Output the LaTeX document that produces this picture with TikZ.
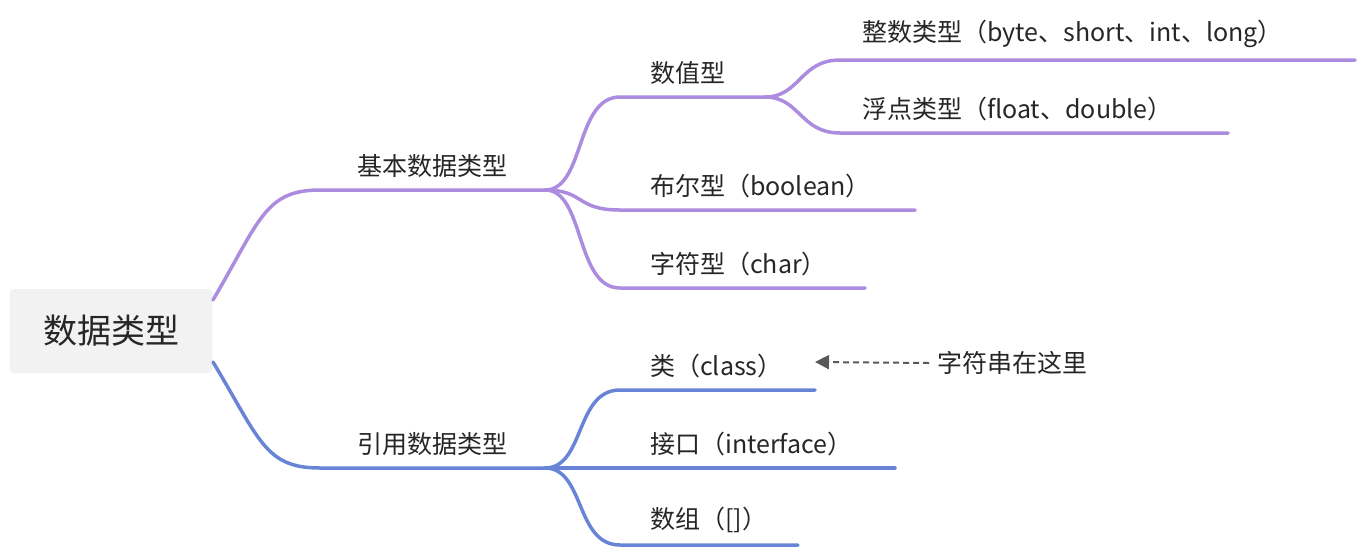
\documentclass[tikz,border=0pt]{standalone}
\usepackage{fontspec}
\newfontfamily\cjk{Noto Sans CJK SC}
\usetikzlibrary{positioning, arrows.meta}
\tikzset{
  x=1pt, y=-1pt,
  lbl/.style={font=\cjk\fontsize{25}{28}\selectfont, anchor=south west, inner sep=0pt, text=black!85},
  basic/.style={draw={rgb,255:red,172;green,140;blue,222}, line width=3.5pt, line cap=round},
  refer/.style={draw={rgb,255:red,104;green,132;blue,214}, line width=3.5pt, line cap=round}
}
\begin{document}
\begin{tikzpicture}
\useasboundingbox (0,0) rectangle (1362,550);
% root
\node[fill=black!5, rounded corners=4pt, minimum width=203pt, minimum height=84pt,
  font=\cjk\fontsize{34}{38}\selectfont, text=black!85] (root) at (111,331) {数据类型};
\coordinate (rootT) at (213,300);
\coordinate (rootB) at (213,362);
% first level
\coordinate (b0) at (320,190); \coordinate (b1) at (545,190);
\coordinate (r0) at (320,468); \coordinate (r1) at (545,468);
\node[lbl] (basicT) at (357,178) {基本数据类型};
\node[lbl] (referT) at (357,456) {引用数据类型};
\draw[basic] (rootT) .. controls (260,220) and (265,190) .. (b0) -- (b1);
\draw[refer] (rootB) .. controls (260,440) and (265,468) .. (r0) -- (r1);
% basic children
\coordinate (n0) at (620,97);  \coordinate (n1) at (765,97);
\coordinate (o0) at (620,210); \coordinate (o1) at (915,210);
\coordinate (c0) at (620,288); \coordinate (c1) at (865,288);
\draw[basic] (b1) .. controls (585,190) and (575,97) .. (n0) -- (n1);
\draw[basic] (b1) .. controls (585,190) and (575,210) .. (o0) -- (o1);
\draw[basic] (b1) .. controls (585,190) and (575,288) .. (c0) -- (c1);
\node[lbl] (numT) at (650,85) {数值型};
\node[lbl] (boolT) at (650,198) {布尔型（boolean）};
\node[lbl] (charT) at (650,276) {字符型（char）};
% number children
\coordinate (i0) at (840,60);  \coordinate (i1) at (1355,60);
\coordinate (f0) at (840,133); \coordinate (f1) at (1228,133);
\draw[basic] (n1) .. controls (800,97) and (800,60) .. (i0) -- (i1);
\draw[basic] (n1) .. controls (800,97) and (800,133) .. (f0) -- (f1);
\node[lbl] (intT) at (862,48) {整数类型（byte、short、int、long）};
\node[lbl] (fltT) at (862,121) {浮点类型（float、double）};
% reference children
\coordinate (k0) at (620,390); \coordinate (k1) at (815,390);
\coordinate (j0) at (620,468); \coordinate (j1) at (895,468);
\coordinate (a0) at (620,545); \coordinate (a1) at (798,545);
\draw[refer] (r1) .. controls (585,468) and (575,390) .. (k0) -- (k1);
\draw[refer] (r1) -- (j1);
\draw[refer] (r1) .. controls (585,468) and (575,545) .. (a0) -- (a1);
\node[lbl] (clsT) at (650,378) {类（class）};
\node[lbl] (ifcT) at (650,456) {接口（interface）};
\node[lbl] (arrT) at (650,533) {数组（[]）};
% note
\node[lbl, anchor=west] (note) at (937,363) {字符串在这里};
\coordinate (tip) at (815,362);
\draw[black!65, line width=2pt, dash pattern=on 6pt off 4pt, -{Triangle[length=14pt,width=14pt]}]
  (note.west) ++(-8,0) -- (tip);
\end{tikzpicture}
\end{document}
